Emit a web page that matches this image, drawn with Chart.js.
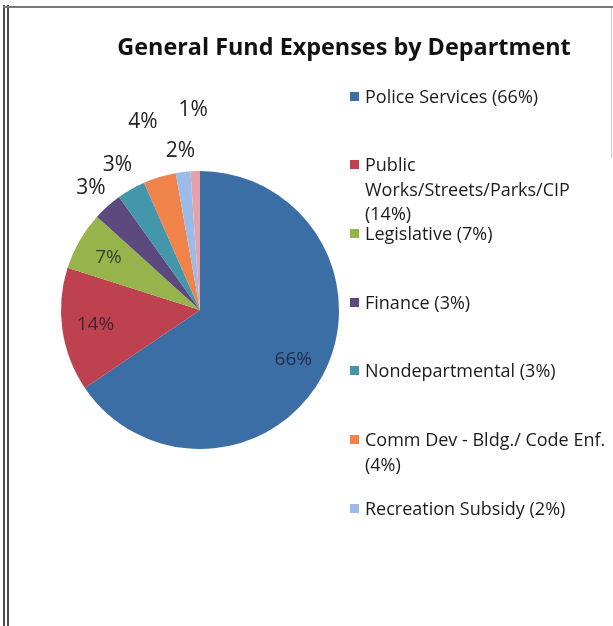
<!DOCTYPE html>
<html><head><meta charset="utf-8">
<script src="https://cdn.jsdelivr.net/npm/chart.js@4.4.1/dist/chart.umd.min.js"></script>
<style>
html,body{margin:0;padding:0;background:#fff;width:613px;height:626px;overflow:hidden;font-family:"Open Sans",sans-serif;}
#wrap{position:relative;width:613px;height:626px;background:#fff;}
canvas{position:absolute;left:0;top:0;}
.b{position:absolute;background:#4d4d4d;}
#title{position:absolute;left:74px;width:540px;top:31px;line-height:30px;text-align:center;font-weight:bold;font-size:23.4px;color:#111;white-space:nowrap;}
.li{position:absolute;left:350px;width:262px;}
.sw{position:absolute;left:0;width:9px;height:9px;}
.tx{position:absolute;left:15px;width:250px;font-size:18px;line-height:24.5px;color:#1a1a1a;}
</style></head>
<body><div id="wrap">
<div class="b" style="left:3px;top:5px;width:2px;height:621px;"></div>
<div class="b" style="left:7px;top:5px;width:2px;height:621px;"></div>
<div class="b" style="left:3px;top:6px;width:610px;height:2px;background:#777;"></div>
<div class="b" style="left:611px;top:8px;width:1px;height:150px;background:#ccc;"></div>
<canvas id="c" width="613" height="626"></canvas>
<div id="title">General Fund Expenses by Department</div>
<div id="legend"></div>
</div>
<script>
const categories = ['Police Services','Public Works/Streets/Parks/CIP','Legislative','Finance','Nondepartmental','Comm Dev - Bldg./ Code Enf.','Recreation Subsidy','Other'];
const values = [65.6, 14.4, 6.8, 3.4, 3.3, 3.8, 1.7, 1.1];
const inLegend = [true, true, true, true, true, true, true, false];
const colors = ['#3a6ea5','#be4150','#97b34c','#5c4a7e','#4496aa','#f0834a','#9dbbe8','#e6a2aa'];
const labelDist = [0.76, 0.76, 0.76, 1.18, 1.2, 1.41, 1.15, 1.44];

const total = values.reduce((a,b)=>a+b,0);
const pct = v => Math.round(v/total*100) + '%';

const labelPlugin = {
  id: 'sliceLabels',
  afterDatasetsDraw(chart) {
    const ctx = chart.ctx;
    const meta = chart.getDatasetMeta(0);
    meta.data.forEach((arc, i) => {
      const p = arc.getProps(['x','y','startAngle','endAngle','outerRadius'], true);
      const mid = (p.startAngle + p.endAngle) / 2;
      const f = labelDist[i];
      const x = p.x + Math.cos(mid) * p.outerRadius * f;
      const y = p.y + Math.sin(mid) * p.outerRadius * f;
      ctx.save();
      ctx.textAlign = 'center';
      ctx.textBaseline = 'middle';
      if (f < 1) {
        ctx.font = '19px "Open Sans"';
        ctx.fillStyle = 'rgba(25,25,35,0.75)';
      } else {
        ctx.font = '21px "Open Sans"';
        ctx.fillStyle = '#222';
      }
      ctx.fillText(pct(values[i]), x, y);
      ctx.restore();
    });
  }
};

new Chart(document.getElementById('c'), {
  type: 'pie',
  data: {
    labels: categories,
    datasets: [{ data: values, backgroundColor: colors, borderWidth: 0 }]
  },
  options: {
    responsive: false,
    animation: false,
    layout: { padding: { left: 61, right: 274, top: 171, bottom: 177 } },
    plugins: { legend: { display: false }, title: { display: false }, tooltip: { enabled: false } }
  },
  plugins: [labelPlugin]
});

const leg = document.getElementById('legend');
let slot = 0;
categories.forEach((name, i) => {
  if (!inLegend[i]) return;
  const cy = 96 + slot * 68.67;
  const item = document.createElement('div');
  item.className = 'li';
  item.style.top = (cy - 12.25) + 'px';
  const sw = document.createElement('div');
  sw.className = 'sw';
  sw.style.background = colors[i];
  sw.style.top = (12.25 - 4.5) + 'px';
  const tx = document.createElement('div');
  tx.className = 'tx';
  tx.textContent = name + ' (' + pct(values[i]) + ')';
  item.appendChild(sw);
  item.appendChild(tx);
  leg.appendChild(item);
  slot++;
});
</script>
</body></html>
